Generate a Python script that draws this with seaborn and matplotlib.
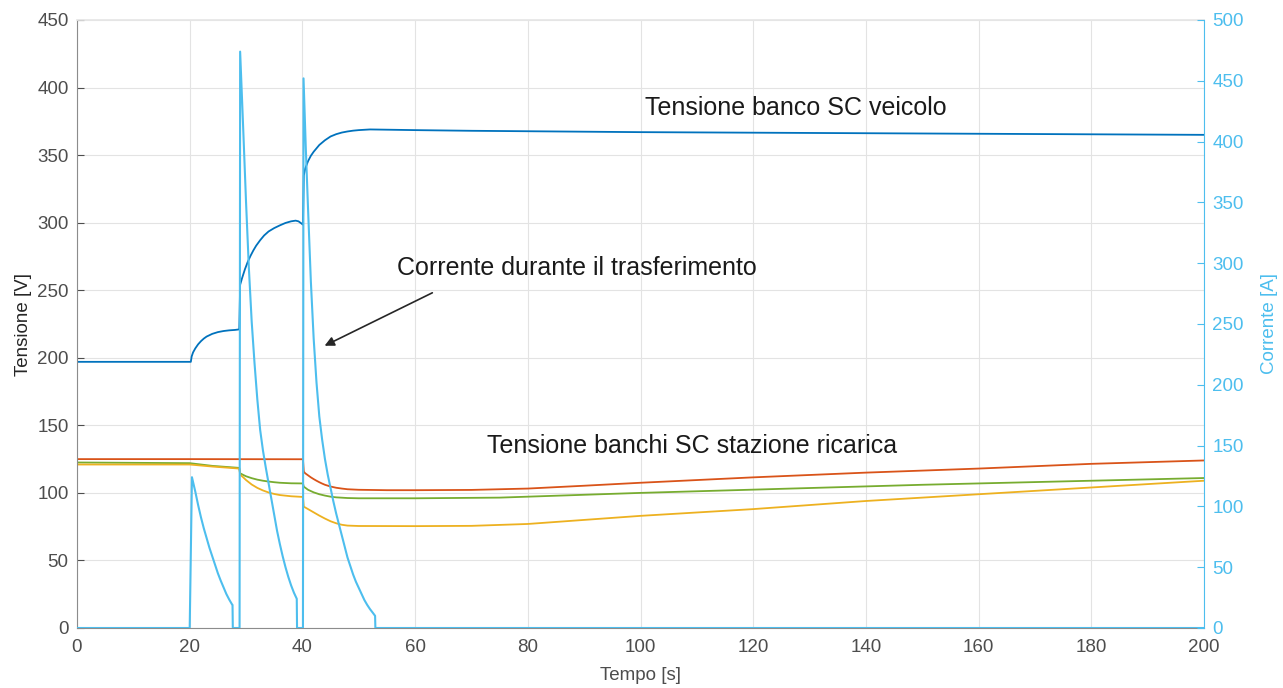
import matplotlib
matplotlib.use("Agg")
import matplotlib.pyplot as plt
import seaborn as sns
import pandas as pd

# ---------------- data ----------------
# Vehicle SC bank voltage [V] (left axis)
t_vehicle = [0, 20.2, 20.35, 20.6, 21.0, 21.5, 22.0, 22.5, 23.0, 24.0, 25.0, 26.0, 27.0, 28.0, 28.8,
             28.95, 29.3, 29.8, 30.3, 30.8, 31.3, 31.8, 32.5, 33.2, 34.0, 35.0, 36.0, 37.0, 38.0,
             38.8, 39.3, 39.8, 40.1,
             40.25, 40.5, 41.0, 41.5, 42.0, 42.5, 43.0, 44.0, 45.0, 46.0, 47.0, 48.0, 49.0, 50.0,
             52.0, 60, 70, 100, 150, 200]
v_vehicle = [197, 197, 201, 204, 207, 210, 212.3, 214.2, 215.7, 217.7, 219, 219.8, 220.3, 220.6, 221,
             254, 259, 265.5, 271, 275.5, 279.5, 283, 287, 290.5, 293.5, 296, 298, 299.8, 301,
             301.5, 301, 299.5, 298.5,
             335, 340, 345.5, 349.5, 352.5, 355, 357.5, 361, 363.8, 365.5, 366.7, 367.5, 368.1, 368.5,
             369, 368.5, 368, 367, 366, 365]

# Station SC banks voltages [V] (left axis)
t_orange = [0, 20, 40.1, 40.25, 40.5, 41, 41.5, 42, 42.5, 43, 43.5, 44, 45, 46, 47, 48, 50, 55, 60,
            70, 80, 90, 100, 120, 140, 160, 180, 200]
v_orange = [125, 125, 124.9, 115.7, 114.5, 113, 111.5, 110.2, 109, 107.9, 106.9, 106, 104.7, 103.8,
            103.2, 102.7, 102.3, 102, 102, 102.2, 103.2, 105.3, 107.5, 111.5, 115, 118, 121.5, 124]

t_green = [0, 20, 24, 28.8, 28.95, 29.5, 30, 31, 32, 33, 34, 35, 36, 38, 40.1,
           40.25, 41, 42, 43, 44, 45, 46, 48, 50, 60, 75, 100, 150, 200]
v_green = [122.5, 122, 120, 118.5, 114.5, 113.3, 112.3, 110.9, 109.8, 109, 108.4, 107.9, 107.5, 107.1, 107,
           104.6, 102.3, 100.4, 99, 98, 97.2, 96.7, 96.2, 96, 96, 96.5, 100, 106, 111]

t_yellow = [0, 20, 24, 28.8, 28.95, 29.5, 30, 31, 32, 33, 34, 35, 36, 38, 40.1,
            40.25, 41, 42, 43, 44, 45, 46, 47, 48, 50, 60, 70, 80, 90, 100, 120, 140, 160, 180, 200]
v_yellow = [121, 121, 119.5, 118, 113.5, 111.5, 109.5, 106.2, 103.7, 101.8, 100.3, 99.2, 98.4, 97.5, 97,
            89.8, 88, 85.6, 83.2, 81, 79, 77.5, 76.4, 75.8, 75.5, 75.4, 75.6, 77, 80, 83, 88, 94, 99,
            104, 109]

# Transfer current [A] (right axis)
t_current = [0, 20.0, 20.4, 21.0, 21.5, 22.0, 22.5, 23.0, 23.5, 24.0, 24.5, 25.0, 25.5, 26.0, 26.5,
             27.0, 27.5, 27.6, 27.65,
             28.85, 28.95, 29.5, 30.0, 30.5, 31.0, 31.5, 32.0, 32.5, 33.0, 33.5, 34.0, 34.5, 35.0,
             35.5, 36.0, 36.5, 37.0, 37.5, 38.0, 38.5, 39.0, 39.05,
             40.1, 40.2, 40.6, 41.0, 41.5, 42.0, 42.5, 43.0, 43.5, 44.0, 44.5, 45.0, 45.5, 46.0,
             46.5, 47.0, 47.5, 48.0, 48.5, 49.0, 49.5, 50.0, 50.5, 51.0, 51.5, 52.0, 52.5, 52.9,
             52.95, 200]
i_current = [0, 0, 124, 112, 101, 91, 82, 74, 66, 59, 52, 45, 39, 33.5, 28,
             23.5, 19.5, 19, 0,
             0, 474, 410, 350, 296, 252, 218, 188, 163, 146, 132, 119, 106, 93,
             80, 69, 59, 50, 42, 35, 29, 24, 0,
             0, 452, 395, 345, 285, 238, 202, 174, 155, 139, 126, 115, 104, 94,
             85, 76, 67, 58, 51, 44, 38, 33, 28, 23, 19, 15.5, 12.5, 10,
             0, 0]

x_ticks = [0, 20, 40, 60, 80, 100, 120, 140, 160, 180, 200]
y_ticks_left = [0, 50, 100, 150, 200, 250, 300, 350, 400, 450]
y_ticks_right = [0, 50, 100, 150, 200, 250, 300, 350, 400, 450, 500]

label_x = "Tempo [s]"
label_left = "Tensione [V]"
label_right = "Corrente [A]"
txt_vehicle = "Tensione banco SC veicolo"
txt_current = "Corrente durante il trasferimento"
txt_station = "Tensione banchi SC stazione ricarica"

# ---------------- style ----------------
sns.set_theme(style="white")
plt.rcParams['font.family'] = ['Liberation Sans', 'DejaVu Sans']

C_BLUE = "#0072BD"
C_ORANGE = "#D95319"
C_YELLOW = "#EDB120"
C_GREEN = "#77AC30"
C_CYAN = "#4DBEEE"
C_AX = "#4d4d4d"

fig = plt.figure(figsize=(12.83, 6.88), dpi=100)
ax = fig.add_axes([77 / 1283, 1 - 628 / 688, (1204 - 77) / 1283, (628 - 20) / 688])
ax2 = ax.twinx()

def df(t, v):
    return pd.DataFrame({"t": t, "v": v})

lw = 1.3
sns.lineplot(data=df(t_orange, v_orange), x="t", y="v", ax=ax, color=C_ORANGE, lw=lw,
             estimator=None, sort=False)
sns.lineplot(data=df(t_green, v_green), x="t", y="v", ax=ax, color=C_GREEN, lw=lw,
             estimator=None, sort=False)
sns.lineplot(data=df(t_yellow, v_yellow), x="t", y="v", ax=ax, color=C_YELLOW, lw=lw,
             estimator=None, sort=False)
sns.lineplot(data=df(t_vehicle, v_vehicle), x="t", y="v", ax=ax, color=C_BLUE, lw=lw,
             estimator=None, sort=False)
sns.lineplot(data=df(t_current, i_current), x="t", y="v", ax=ax2, color=C_CYAN, lw=1.5,
             estimator=None, sort=False)

ax.set_xlim(0, 200)
ax.set_ylim(0, 450)
ax2.set_ylim(0, 500)
ax.set_xticks(x_ticks)
ax.set_yticks(y_ticks_left)
ax2.set_yticks(y_ticks_right)

fs = 13.5
ax.set_xlabel(label_x, fontsize=fs, color=C_AX, labelpad=8)
ax.set_ylabel(label_left, fontsize=fs, color="#262626", labelpad=4)
ax2.set_ylabel(label_right, fontsize=fs, color=C_CYAN, labelpad=12)

ax.tick_params(axis="x", direction="in", length=5, width=0.8, labelsize=fs, colors=C_AX, pad=8)
ax.tick_params(axis="y", direction="in", length=5, width=0.8, labelsize=fs, colors=C_AX, pad=6)
ax2.tick_params(axis="y", direction="in", length=5, width=0.8, labelsize=fs, colors=C_CYAN, pad=6)

ax.grid(True, color="#e3e3e3", lw=0.8)
ax.set_axisbelow(True)

for s in ["left", "bottom"]:
    ax.spines[s].set_color("#8c8c8c")
    ax.spines[s].set_linewidth(0.8)
ax.spines["top"].set_color("#e6e6e6")
ax.spines["right"].set_visible(False)
for s in ["left", "bottom", "top"]:
    ax2.spines[s].set_visible(False)
ax2.spines["right"].set_color(C_CYAN)
ax2.spines["right"].set_linewidth(0.8)
ax2.grid(False)

tfs = 18
ax.text(100.8, 385, txt_vehicle, fontsize=tfs, color="#1a1a1a", va="center", ha="left")
ax.text(56.8, 266.5, txt_current, fontsize=tfs, color="#1a1a1a", va="center", ha="left")
ax.text(72.8, 134.7, txt_station, fontsize=tfs, color="#1a1a1a", va="center", ha="left")
ax.annotate("", xy=(43.5, 208), xytext=(63.5, 249),
            arrowprops=dict(arrowstyle="-|>", color="#262626", lw=1.2, mutation_scale=14))

fig.savefig("out.png", dpi=100)
